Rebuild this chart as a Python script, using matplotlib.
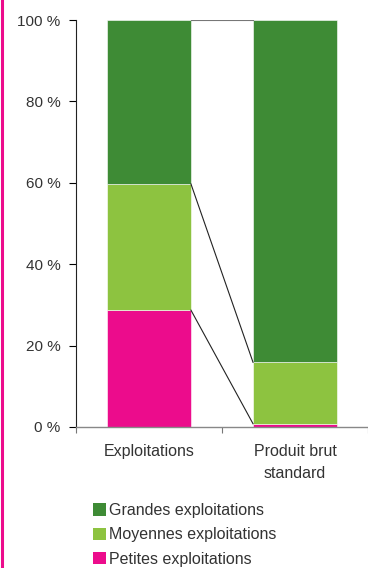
import numpy as np
import matplotlib.pyplot as plt
from matplotlib.patches import Patch

plt.rcParams["font.family"] = ["Liberation Sans", "DejaVu Sans"]

# Share of farms and of standard gross output by farm size (%)
categories = ["Exploitations", "Produit brut\nstandard"]
series_names = ["Petites exploitations", "Moyennes exploitations", "Grandes exploitations"]
petites = [28.7, 0.8]
moyennes = [31.0, 15.1]
grandes = [40.3, 84.1]

colors = ["#ec0c8c", "#8dc340", "#3e8b35"]
text_color = "#333333"

fig = plt.figure(figsize=(3.68, 5.68), dpi=100)
ax = fig.add_axes([76 / 368, 1 - 427 / 568, 292 / 368, 407 / 568])

x = np.arange(len(categories))
width = 0.575
bottom = np.zeros(len(categories))
tops = []
for vals, col in zip([petites, moyennes, grandes], colors):
    vals = np.array(vals)
    ax.bar(x, vals, width, bottom=bottom, color=col, edgecolor="white",
           linewidth=0.4, zorder=2)
    bottom = bottom + vals
    tops.append(bottom.copy())

# connector lines between the stacked segments
x0 = x[0] + width / 2
x1 = x[1] - width / 2
for i, t in enumerate(tops):
    col = "#777777" if i == len(tops) - 1 else "#222222"
    ax.plot([x0, x1], [t[0], t[1]], color=col, lw=0.8, zorder=3)

ax.set_xlim(-0.5, 1.5)
ax.set_ylim(0, 100)
ax.set_yticks(np.arange(0, 101, 20))
ax.set_yticklabels([f"{v} %" for v in range(0, 101, 20)])
ax.set_xticks([-0.5, 0.5, 1.5])
ax.set_xticklabels([])
ax.set_xticks(x, minor=True)
ax.set_xticklabels(categories, minor=True, linespacing=1.65)
ax.tick_params(axis="x", which="minor", length=0, pad=12, labelsize=11.5,
               labelcolor=text_color)
ax.tick_params(axis="x", which="major", length=4, color="#777777")
ax.tick_params(axis="y", length=5, width=0.8, pad=6, labelsize=11,
               labelcolor=text_color)
for s in ["top", "right"]:
    ax.spines[s].set_visible(False)
ax.spines["left"].set_color("#222222")
ax.spines["left"].set_linewidth(0.8)
ax.spines["bottom"].set_color("#888888")
ax.spines["bottom"].set_linewidth(1.0)
ax.spines["bottom"].set_zorder(4)

handles = [Patch(facecolor=c, edgecolor="none") for c in colors[::-1]]
fig.legend(handles, series_names[::-1], loc="upper left",
           bbox_to_anchor=(93 / 368, 1 - 503 / 568), frameon=False,
           fontsize=11.5, handlelength=0.8, handleheight=0.8,
           handletextpad=0.2, labelspacing=0.58, borderpad=0,
           borderaxespad=0, labelcolor=text_color)

# magenta rule along the left edge
fig.add_artist(plt.Line2D([1.5 / 368, 1.5 / 368], [0, 1], color="#ec0c8c",
                          lw=2.2, transform=fig.transFigure))

fig.savefig("out.png", dpi=100)
